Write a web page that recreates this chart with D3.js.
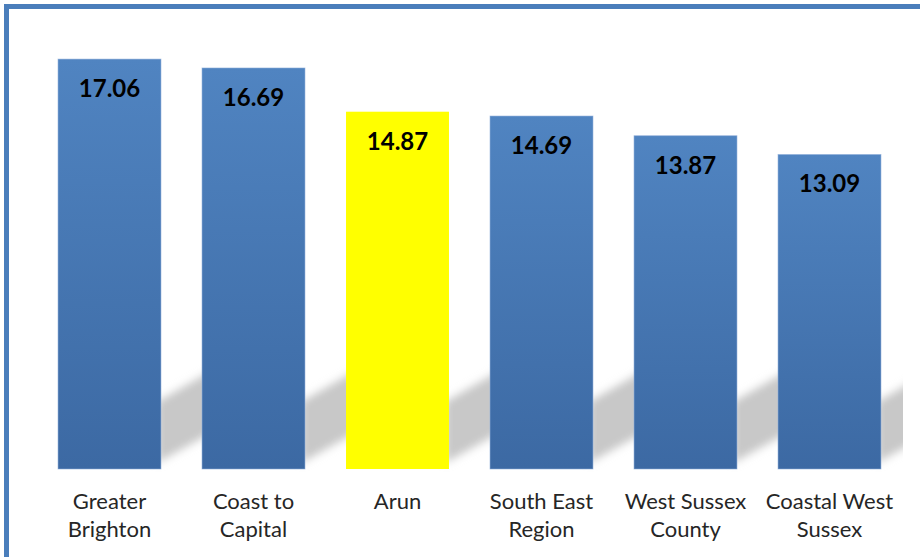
<!DOCTYPE html>
<html>
<head>
<meta charset="utf-8">
<script src="https://cdn.jsdelivr.net/npm/d3@7"></script>
<style>
  html, body { margin: 0; padding: 0; background: #fff; }
  svg { display: block; }
</style>
</head>
<body>
<svg id="chart" width="920" height="557"></svg>
<script>
// Chart data
const categories = ["Greater Brighton", "Coast to Capital", "Arun", "South East Region", "West Sussex County", "Coastal West Sussex"];
const labelLines = [["Greater", "Brighton"], ["Coast to", "Capital"], ["Arun"], ["South East", "Region"], ["West Sussex", "County"], ["Coastal West", "Sussex"]];
const values = [17.06, 16.69, 14.87, 14.69, 13.87, 13.09];
const highlighted = "Arun";

const W = 920, H = 557;
const svg = d3.select("#chart");
const defs = svg.append("defs");

// Bar gradient: lighter at the top, deeper blue at the base
const grad = defs.append("linearGradient")
  .attr("id", "barGrad").attr("x1", 0).attr("y1", 0).attr("x2", 0).attr("y2", 1);
grad.append("stop").attr("offset", "0%").attr("stop-color", "#5084C1");
grad.append("stop").attr("offset", "100%").attr("stop-color", "#3C69A3");

// Soft shadow blur
defs.append("filter").attr("id", "shadowBlur")
  .attr("x", "-30%").attr("y", "-30%").attr("width", "160%").attr("height", "160%")
  .append("feGaussianBlur").attr("stdDeviation", 4.5);

// Plot area clip
defs.append("clipPath").attr("id", "plotClip")
  .append("rect").attr("x", 0).attr("y", 0).attr("width", 903).attr("height", H);

const x = d3.scaleBand()
  .domain(categories)
  .range([37.5, 901.5])
  .paddingInner(0.285)
  .paddingOuter(0.1425);

const y = d3.scaleLinear().domain([0, 18]).range([469, 36.5]);

const data = categories.map((c, i) => ({ cat: c, value: values[i], lines: labelLines[i] }));

// Outer frame
svg.append("rect")
  .attr("x", 6.5).attr("y", 6.5)
  .attr("width", W + 20).attr("height", H + 20)
  .attr("fill", "none")
  .attr("stroke", "#4A7EBB")
  .attr("stroke-width", 5);

// Diagonal shadows cast behind each bar
const base = y(0);
svg.append("g")
  .attr("clip-path", "url(#plotClip)")
  .selectAll("polygon")
  .data(data)
  .join("polygon")
  .attr("points", d => {
    const x1 = x(d.cat) + x.bandwidth();
    return [
      [x1 - 4, base - 6],
      [x1 - 4, base - 67],
      [x1 + 50, base - 98],
      [x1 + 50, base - 36]
    ].map(p => p.join(",")).join(" ");
  })
  .attr("fill", "#c8c8c8")
  .attr("filter", "url(#shadowBlur)");

// Bars
svg.append("g")
  .selectAll("rect")
  .data(data)
  .join("rect")
  .attr("x", d => x(d.cat))
  .attr("y", d => y(d.value))
  .attr("width", x.bandwidth())
  .attr("height", d => y(0) - y(d.value))
  .attr("fill", d => d.cat === highlighted ? "#FFFF00" : "url(#barGrad)")
  .attr("stroke", d => d.cat === highlighted ? "none" : "#8FAEDA")
  .attr("stroke-width", 0.8)
  .attr("stroke-opacity", 0.7);

// Value labels inside the bars
svg.append("g")
  .selectAll("text")
  .data(data)
  .join("text")
  .attr("x", d => x(d.cat) + x.bandwidth() / 2)
  .attr("y", d => y(d.value) + 38)
  .attr("text-anchor", "middle")
  .attr("font-family", "Lato, 'Open Sans', sans-serif")
  .attr("font-weight", "bold")
  .attr("font-size", 24)
  .attr("fill", "#000")
  .text(d => d3.format(".2f")(d.value));

// Category labels
const catG = svg.append("g")
  .selectAll("text")
  .data(data)
  .join("text")
  .attr("text-anchor", "middle")
  .attr("font-family", "Lato, 'Open Sans', sans-serif")
  .attr("font-size", 22)
  .attr("fill", "#262626");
catG.selectAll("tspan")
  .data(d => d.lines.map(l => ({ line: l, cx: x(d.cat) + x.bandwidth() / 2 })))
  .join("tspan")
  .attr("x", t => t.cx)
  .attr("y", (t, i) => 509 + i * 28)
  .text(t => t.line);
</script>
</body>
</html>
